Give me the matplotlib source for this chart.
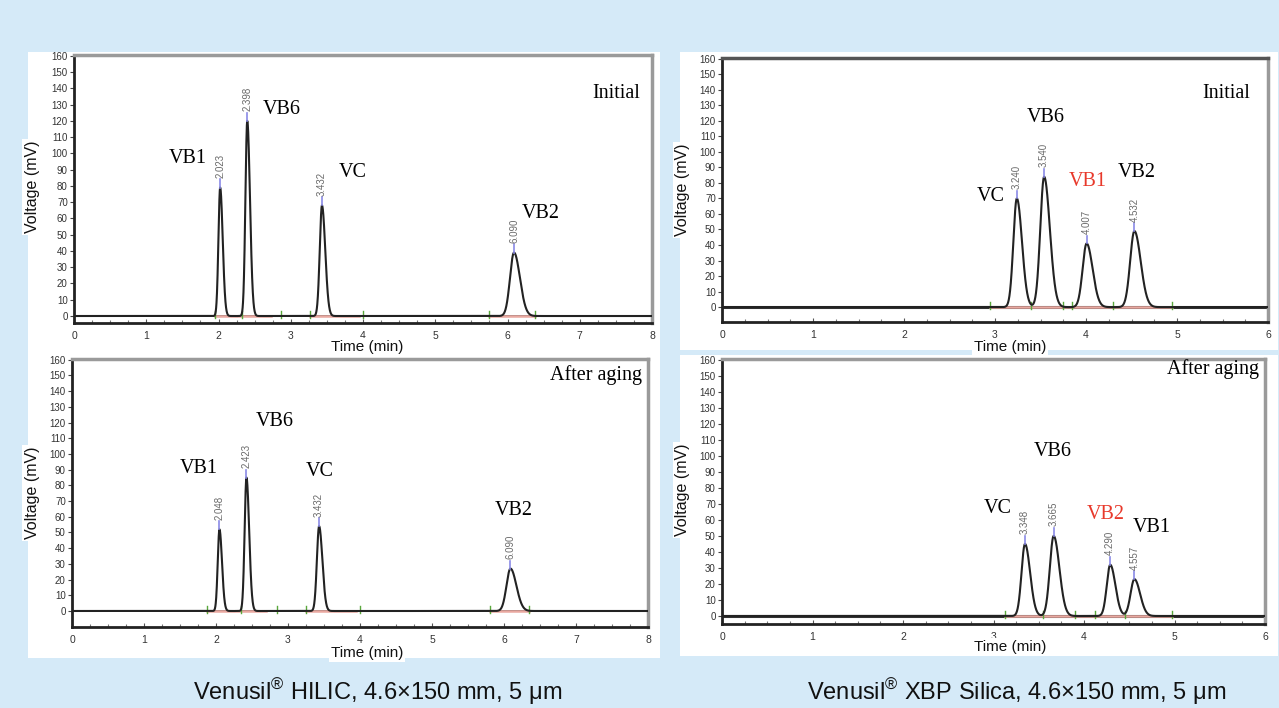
import numpy as np
import matplotlib
matplotlib.use("Agg")
import matplotlib.pyplot as plt
from matplotlib.patches import Rectangle

plt.rcParams['font.family'] = ['Liberation Sans', 'DejaVu Sans']
plt.rcParams['mathtext.fontset'] = 'custom'
plt.rcParams['mathtext.rm'] = 'Liberation Sans'

# ---------------- data ----------------
# HILIC, initial
hil_init_names = ["VB1", "VB6", "VC", "VB2"]
hil_init_rt = [2.023, 2.398, 3.432, 6.090]
hil_init_h = [79, 120, 68, 39]
hil_init_sig = [0.028, 0.030, 0.036, 0.065]
hil_init_lbl_x = [1.58, 2.87, 3.86, 6.46]
hil_init_lbl_y = [97, 127, 88, 63]
hil_init_marks = [1.95, 2.32, 2.87, 3.27, 4.0, 5.75, 6.38]
hil_init_red = [(1.95, 2.72), (3.27, 3.95), (5.75, 6.38)]

# HILIC, after aging
hil_age_names = ["VB1", "VB6", "VC", "VB2"]
hil_age_rt = [2.048, 2.423, 3.432, 6.090]
hil_age_h = [52, 85, 54, 27]
hil_age_sig = [0.028, 0.030, 0.036, 0.065]
hil_age_lbl_x = [1.76, 2.82, 3.44, 6.13]
hil_age_lbl_y = [91, 121, 89, 64]
hil_age_marks = [1.88, 2.35, 2.85, 3.25, 4.0, 5.8, 6.35]
hil_age_red = [(1.88, 2.7), (3.25, 3.95), (5.8, 6.35)]

# XBP Silica, initial
xbp_init_names = ["VC", "VB6", "VB1", "VB2"]
xbp_init_rt = [3.240, 3.540, 4.007, 4.532]
xbp_init_h = [70, 84, 41, 49]
xbp_init_sig = [0.045, 0.050, 0.052, 0.055]
xbp_init_lbl_x = [2.95, 3.56, 4.02, 4.56]
xbp_init_lbl_y = [71, 122, 81, 87]
xbp_init_red_names = ["VB1"]
xbp_init_marks = [2.95, 3.40, 3.75, 3.85, 4.30, 4.95]
xbp_init_red = [(2.95, 4.95)]

# XBP Silica, after aging
xbp_age_names = ["VC", "VB6", "VB2", "VB1"]
xbp_age_rt = [3.348, 3.665, 4.290, 4.557]
xbp_age_h = [45, 50, 32, 23]
xbp_age_sig = [0.045, 0.050, 0.045, 0.050]
xbp_age_lbl_x = [3.05, 3.65, 4.24, 4.75]
xbp_age_lbl_y = [67, 103, 63.5, 55]
xbp_age_red_names = ["VB2"]
xbp_age_marks = [3.13, 3.55, 3.90, 4.12, 4.45, 4.97]
xbp_age_red = [(3.13, 4.97)]

captions = ["Venusil$^{\\mathrm{®}}$ HILIC, 4.6×150 mm, 5 μm",
            "Venusil$^{\\mathrm{®}}$ XBP Silica, 4.6×150 mm, 5 μm"]

# ---------------- figure ----------------
W, H = 1279, 708
BG = '#d5eaf8'
fig = plt.figure(figsize=(W / 100, H / 100), dpi=100, facecolor=BG)


def px_rect(l, t, r, b):
    return [l / W, 1 - b / H, (r - l) / W, (b - t) / H]


# white panels
for (l, t, r, b) in [(28, 52, 660, 355), (680, 52, 1278, 350),
                     (28, 355, 660, 658), (680, 355, 1278, 656)]:
    fig.add_artist(Rectangle((l / W, 1 - b / H), (r - l) / W, (b - t) / H,
                             transform=fig.transFigure, facecolor='white',
                             edgecolor='none', zorder=-5))


def asym_peaks(t, rts, hs, sigs):
    y = np.zeros_like(t)
    for rt, h, s in zip(rts, hs, sigs):
        sl = s * 0.85
        sr = s * 1.25
        sig = np.where(t < rt, sl, sr)
        y += h * np.exp(-0.5 * ((t - rt) / sig) ** 2)
    return y


def panel(rect, xmax, ylim, names, rts, hs, sigs, lx, ly, marks, reds,
          tag, tag_xy, red_names=(), base_lw=1.2, top_col='#9a9a9a'):
    ax = fig.add_axes(rect)
    ax.set_zorder(2)
    ax.set_facecolor('none')
    ax.set_xlim(0, xmax)
    ax.set_ylim(*ylim)
    t = np.linspace(0, xmax, 6000)
    y = asym_peaks(t, rts, hs, sigs)
    ax.axhline(0, color='#333333', lw=base_lw, zorder=2)
    for a, b in reds:
        ax.plot([a, b], [0, 0], color='#e9a8a0', lw=1.8, zorder=2.5)
    for m in marks:
        ax.plot([m, m], [-1.5, 3], color='#5aa83c', lw=1.0, zorder=3)
    ax.plot(t, y, color='#222222', lw=1.5, zorder=4)
    for rt, h in zip(rts, hs):
        ax.plot([rt, rt], [h, h + 5], color='#8a8ae6', lw=1.2, zorder=5)
        ax.text(rt, h + 6, f"{rt:.3f}", rotation=90, ha='center', va='bottom',
                fontsize=7, color='#6a6a6a', zorder=5)
    for n, x, yy in zip(names, lx, ly):
        c = '#e8392b' if n in red_names else 'black'
        ax.text(x, yy, n, ha='center', va='center', fontsize=14.5,
                family='Liberation Serif', color=c, zorder=6)
    ax.text(tag_xy[0], tag_xy[1], tag, ha='center', va='center', fontsize=14.5,
            family='Liberation Serif', color='black', zorder=6)
    ax.set_yticks(np.arange(0, 161, 10))
    ax.set_xticks(np.arange(0, xmax + 0.1, 1))
    ax.set_xticks(np.arange(0, xmax + 0.01, 0.25), minor=True)
    ax.tick_params(axis='y', labelsize=7, labelcolor='#333333', length=3,
                   width=0.8, color='#444444', pad=1.5)
    ax.tick_params(axis='x', which='major', labelsize=7.5, labelcolor='#333333',
                   direction='in', length=3, width=0.8, color='#555555', pad=6)
    ax.tick_params(axis='x', which='minor', direction='in', length=2,
                   width=0.8, color='#777777')
    for s in ['left', 'bottom']:
        ax.spines[s].set_color('#222222')
        ax.spines[s].set_linewidth(2.0)
    ax.spines['top'].set_color(top_col)
    ax.spines['top'].set_linewidth(2.5)
    ax.spines['right'].set_color('#9a9a9a')
    ax.spines['right'].set_linewidth(2.5)
    return ax


panel(px_rect(74, 55, 652, 323), 8, (-4.3, 160.5),
      hil_init_names, hil_init_rt, hil_init_h, hil_init_sig,
      hil_init_lbl_x, hil_init_lbl_y, hil_init_marks, hil_init_red,
      "Initial", (7.50, 137))
panel(px_rect(72, 359, 648, 627), 8, (-10.2, 160.5),
      hil_age_names, hil_age_rt, hil_age_h, hil_age_sig,
      hil_age_lbl_x, hil_age_lbl_y, hil_age_marks, hil_age_red,
      "After aging", (7.28, 150))
panel(px_rect(722, 58, 1268, 322), 6, (-9.6, 160.5),
      xbp_init_names, xbp_init_rt, xbp_init_h, xbp_init_sig,
      xbp_init_lbl_x, xbp_init_lbl_y, xbp_init_marks, xbp_init_red,
      "Initial", (5.54, 137.5), red_names=xbp_init_red_names, base_lw=2.2,
      top_col='#555555')
panel(px_rect(722, 359, 1265, 624), 6, (-5, 160.5),
      xbp_age_names, xbp_age_rt, xbp_age_h, xbp_age_sig,
      xbp_age_lbl_x, xbp_age_lbl_y, xbp_age_marks, xbp_age_red,
      "After aging", (5.43, 154), red_names=xbp_age_red_names, base_lw=2.2)

# axis labels with white boxes
box = dict(facecolor='white', edgecolor='none', pad=1.5)
for (x, y) in [(367, 347), (1010, 347), (367, 653), (1010, 647)]:
    fig.text(x / W, 1 - y / H, "Time (min)", ha='center', va='center',
             fontsize=11, color='#111111', bbox=box, zorder=10)
for (x, y) in [(32, 187), (683, 190), (32, 493), (683, 490)]:
    fig.text(x / W, 1 - y / H, "Voltage (mV)", ha='center', va='center',
             rotation=90, fontsize=11.5, color='#111111', bbox=box, zorder=10)

# captions
for x, cap in zip([378, 1017], captions):
    fig.text(x / W, 1 - 692 / H, cap, ha='center', va='center',
             fontsize=17, color='#111111')

fig.savefig("out.png", dpi=100, facecolor=BG)
